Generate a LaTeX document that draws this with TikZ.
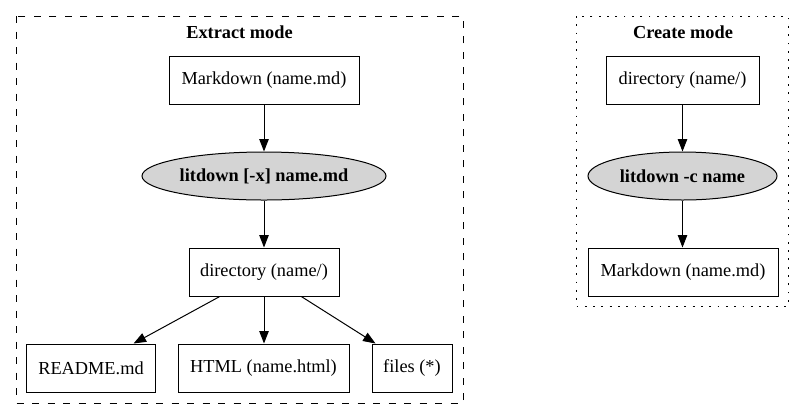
\documentclass[tikz,border=0pt]{standalone}
\usepackage{fontspec}
\setmainfont{Liberation Serif}
\usetikzlibrary{arrows.meta,shapes.geometric,calc}
\begin{document}
\begin{tikzpicture}[x=1bp,y=-1bp,
  every node/.style={font=\fontsize{18.4}{22}\selectfont, inner sep=0pt},
  box/.style={draw, line width=1bp, minimum height=48bp, anchor=center},
  oval/.style={draw, ellipse, fill=black!17, line width=1bp, minimum height=48bp, font=\fontsize{18.4}{22}\selectfont\bfseries},
  title/.style={font=\fontsize{18.4}{22}\selectfont\bfseries},
  arr/.style={line width=1bp, -{Triangle[length=12.5bp,width=9.5bp]}},
  clusterA/.style={line width=1bp, dash pattern=on 7bp off 8.5bp},
  clusterB/.style={line width=1bp, dash pattern=on 1.8bp off 6.5bp}
]
\useasboundingbox (0,0) rectangle (804,419);
% clusters
\draw[clusterA] (16,16) rectangle (463,403);
\draw[clusterB] (576,16) rectangle (788,306);
\node[title] (tA) at (239.5,32) {Extract mode};
\node[title] (tB) at (683,32) {Create mode};
% extract
\node[box, minimum width=190bp] (md) at (264,80) {Markdown (name.md)};
\node[oval, minimum width=244bp] (lx) at (264,176) {litdown [-x] name.md};
\node[box, minimum width=150bp] (dir) at (264,272) {directory (name/)};
\node[box, minimum width=128bp] (rd) at (91,368) {README.md};
\node[box, minimum width=171bp] (html) at (263.5,368) {HTML (name.html)};
\node[box, minimum width=80bp] (fl) at (412,368) {files (*)};
\draw[arr] (md) -- (lx);
\draw[arr] (lx) -- (dir);
\draw[arr] ($(dir.south west)!0.207!(dir.south east)$) -- ($(rd.north west)!0.83!(rd.north east)$);
\draw[arr] (dir.south) -- (dir.south |- html.north);
\draw[arr] ($(dir.south west)!0.747!(dir.south east)$) -- ($(fl.north west)!0.05!(fl.north east)$);
% create
\node[box, minimum width=153bp] (cd) at (682.5,80) {directory (name/)};
\node[oval, minimum width=189bp] (lc) at (682.5,176) {litdown -c name};
\node[box, minimum width=190bp] (cm) at (683,272) {Markdown (name.md)};
\draw[arr] (cd) -- (lc);
\draw[arr] (lc) -- (lc.south |- cm.north);
\end{tikzpicture}
\end{document}
